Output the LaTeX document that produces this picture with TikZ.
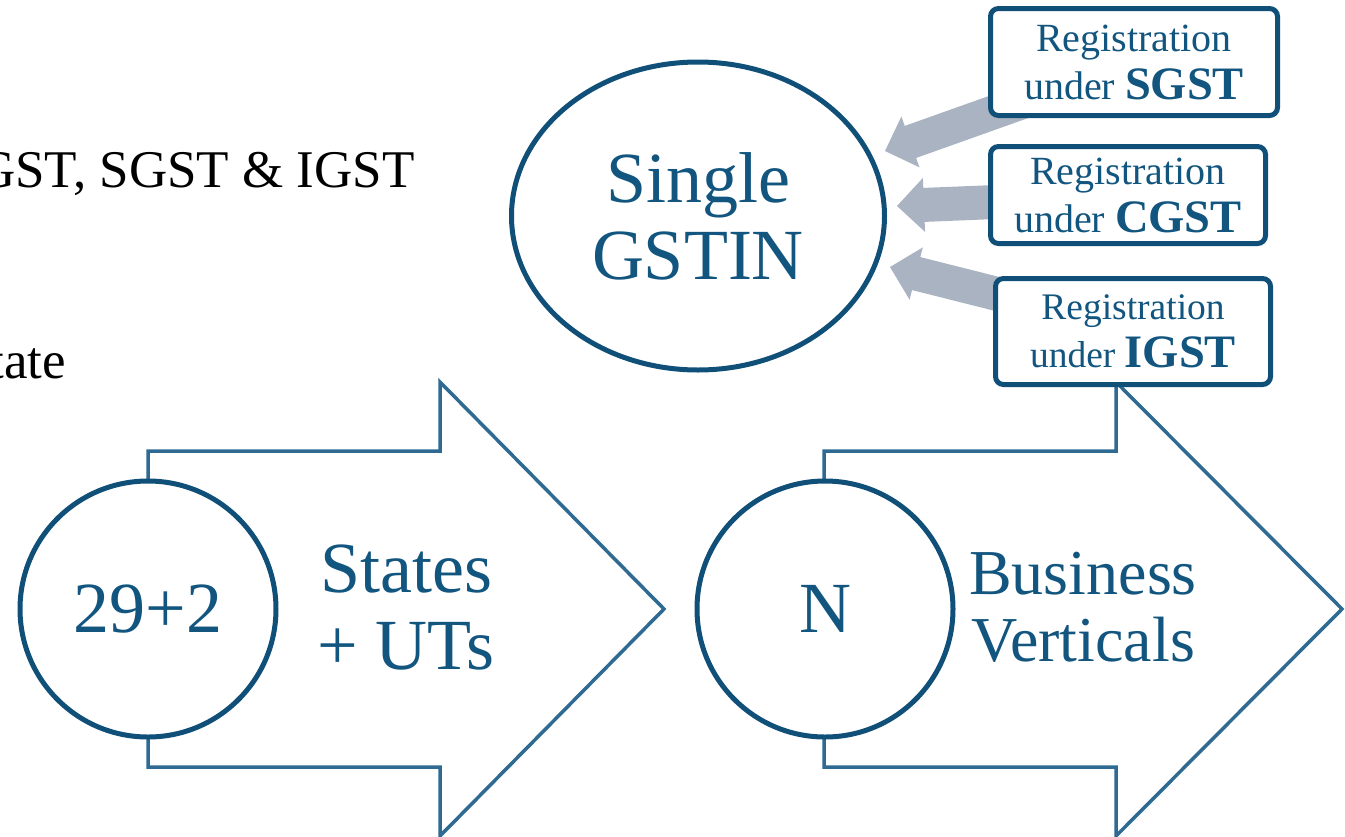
\documentclass[tikz,border=0pt]{standalone}
\usepackage{fontspec}
\setmainfont{Liberation Serif}
\usetikzlibrary{shapes.geometric,calc}

\definecolor{navy}{RGB}{15,79,120}
\definecolor{outline}{RGB}{46,106,146}
\definecolor{inkblue}{RGB}{18,86,128}
\definecolor{flowgray}{RGB}{169,179,193}

\tikzset{
  ring/.style={circle,draw=navy,line width=5pt,fill=white,minimum size=256pt,
    inner sep=0pt,text=inkblue,font=\fontsize{72}{77}\selectfont},
  bigarrow/.style={draw=outline,line width=3.5pt,fill=white,line join=miter},
  regbox/.style={draw=navy,line width=5pt,fill=white,rounded corners=8pt,
    inner sep=0pt,text=inkblue,align=center},
  caption/.style={text=inkblue,align=center,inner sep=0pt},
  bodytext/.style={text=black,inner sep=0pt,font=\fontsize{53}{60}\selectfont},
}

% thick block arrow from a tail point #1 to a tip point #2
\newcommand\flowarrow[2]{%
  \path ($(#2)!27pt!(#1)$) coordinate (hb);
  \fill[flowgray] (#2) -- ($(hb)!27pt!90:(#1)$) -- ($(hb)!17pt!90:(#1)$)
    -- ($(#1)!17pt!-90:(hb)$) -- ($(#1)!17pt!90:(hb)$)
    -- ($(hb)!17pt!-90:(#1)$) -- ($(hb)!27pt!-90:(#1)$) -- cycle;
}

\begin{document}
\begin{tikzpicture}[x=1pt,y=-1pt]
\clip (0,0) rectangle (1345,836);

% cut-off body text on the left
\node[bodytext,anchor=base east] (taxes) at (415,187) {GST, SGST \& IGST};
\node[bodytext,anchor=base east] (state) at (66,378) {tate};

% two outlined block arrows
\draw[bigarrow] (148,451) -- (440,451) -- (440,382) -- (664,609)
  -- (440,836) -- (440,767) -- (148,767) -- cycle;
\draw[bigarrow] (824,451) -- (1116,451) -- (1116,382) -- (1342,609)
  -- (1116,836) -- (1116,767) -- (824,767) -- cycle;

\node[caption,font=\fontsize{72}{77}\selectfont] (states) at (406,607.5) {States\\+ UTs};
\node[caption,font=\fontsize{64}{67}\selectfont] (business) at (1083,607) {Business\\Verticals};

\node[ring] (count) at (148,609) {29+2};
\node[ring] (nvert) at (825,609) {N};

% registrations feeding the single GSTIN
\coordinate (tailS) at (1045,94);   \coordinate (tipS) at (885,151);
\coordinate (tailC) at (1045,200);  \coordinate (tipC) at (897,206);
\coordinate (tailI) at (1045,306);  \coordinate (tipI) at (890,267);
\flowarrow{tailS}{tipS}
\flowarrow{tailC}{tipC}
\flowarrow{tailI}{tipI}

\node[regbox,minimum width=287pt,minimum height=107pt,
  font=\fontsize{40}{48}\selectfont] (sgst) at (1134,62)
  {Registration\\under {\fontsize{46.5}{48}\selectfont\bfseries SGST}};
\node[regbox,minimum width=275pt,minimum height=97pt,
  font=\fontsize{40}{48}\selectfont] (cgst) at (1128,195)
  {Registration\\under {\fontsize{46.5}{48}\selectfont\bfseries CGST}};
\node[regbox,minimum width=275pt,minimum height=106pt,
  font=\fontsize{37.5}{48}\selectfont] (igst) at (1133,331.5)
  {Registration\\under {\fontsize{46.5}{48}\selectfont\bfseries IGST}};

\node[ellipse,draw=navy,line width=5pt,fill=white,minimum width=373pt,
  minimum height=308pt,inner sep=0pt,text=inkblue,align=center,
  font=\fontsize{72}{77}\selectfont] (gstin) at (698,216) {Single\\GSTIN};
\end{tikzpicture}
\end{document}
